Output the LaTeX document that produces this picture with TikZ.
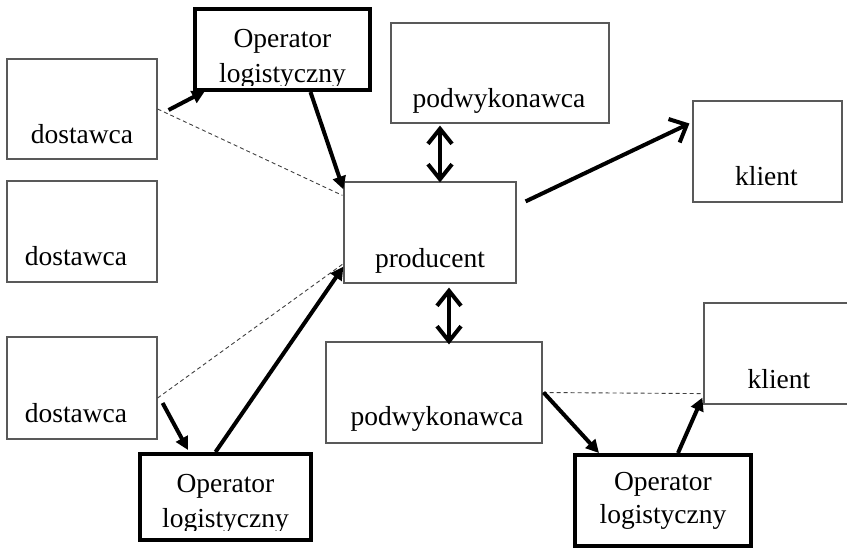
\documentclass[tikz,border=0pt]{standalone}
\usepackage{fontspec}
\setmainfont{Liberation Serif}
\usetikzlibrary{arrows.meta}

\begin{document}
\begin{tikzpicture}[
  x=1pt, y=-1pt,
  plainbox/.style={draw=black!65, line width=1.2pt, rectangle, inner sep=0pt},
  opbox/.style={draw=black, line width=4pt, rectangle, inner sep=0pt},
  boxtext/.style={anchor=base, inner sep=0pt, font=\fontsize{27.5}{34}\selectfont},
  flow/.style={line width=4pt, -{Triangle[length=13pt, width=13pt]}},
  twoway/.style={line width=4pt, {Straight Barb[length=15pt, width=24pt, line width=4pt]}-{Straight Barb[length=15pt, width=24pt, line width=4pt]}},
  oneway/.style={line width=4pt, -{Straight Barb[length=14pt, width=26pt, line width=4pt]}},
  link/.style={draw=black!75, line width=0.9pt, dash pattern=on 4pt off 3pt}
]
\useasboundingbox (0,0) rectangle (847,549);

% suppliers
\node[plainbox, minimum width=150, minimum height=100] (d1) at (82,109) {};
\node[plainbox, minimum width=150, minimum height=101] (d2) at (82,231.5) {};
\node[plainbox, minimum width=150, minimum height=102] (d3) at (82,388) {};
\node[boxtext] (d1t) at (82,143) {dostawca};
\node[boxtext] (d2t) at (76,265) {dostawca};
\node[boxtext] (d3t) at (76,422) {dostawca};

% producer, subcontractors, clients
\node[plainbox, minimum width=218, minimum height=100] (p1) at (500,73) {};
\node[boxtext] (p1t) at (499,107) {podwykonawca};
\node[plainbox, minimum width=172, minimum height=101] (pr) at (430,232.5) {};
\node[boxtext] (prt) at (430,267) {producent};
\node[plainbox, minimum width=149, minimum height=101] (k1) at (767.5,151.5) {};
\node[boxtext] (k1t) at (766.5,185) {klient};
\node[plainbox, minimum width=216, minimum height=101] (p2) at (434,392.5) {};
\node[boxtext] (p2t) at (437,425) {podwykonawca};
\node[plainbox, minimum width=160, minimum height=101] (k2) at (784,353.5) {};
\node[boxtext] (k2t) at (779,388) {klient};

% logistics operators
\node[opbox, minimum width=175, minimum height=81] (o1) at (282.5,49.5) {};
\node[opbox, minimum width=171, minimum height=86] (o2) at (225.5,497) {};
\node[opbox, minimum width=176, minimum height=91] (o3) at (663,500.5) {};
\begin{scope}
  \clip ([shift={(2,2)}]o1.north west) rectangle ([shift={(-2,-7)}]o1.south east);
  \node[boxtext] (o1a) at (282.5,47) {Operator};
  \node[boxtext] (o1b) at (282.5,82) {logistyczny};
\end{scope}
\begin{scope}
  \clip ([shift={(2,2)}]o2.north west) rectangle ([shift={(-2,-12)}]o2.south east);
  \node[boxtext] (o2a) at (225.5,492) {Operator};
  \node[boxtext] (o2b) at (225.5,527) {logistyczny};
\end{scope}
\node[boxtext] (o3a) at (663,490) {Operator};
\node[boxtext] (o3b) at (663,523) {logistyczny};

% dashed direct links
\draw[link] (d1.east) -- ([shift={(-1,14)}]pr.north west);
\draw[link] ([shift={(0,10)}]d3.east) -- ([shift={(0,-20)}]pr.south west);
\draw[link] (p2.east) -- ([shift={(0,-11)}]k2.south west);

% material flows
\draw[flow] ([shift={(11,1)}]d1.east) -- ([shift={(12,-1)}]o1.south west);
\draw[flow] ([shift={(28,0)}]o1.south) -- ([shift={(0,8)}]pr.north west);
\draw[flow] ([shift={(5,15)}]d3.east) -- ([shift={(50,-2)}]o2.north west);
\draw[flow] ([shift={(-10,0)}]o2.north) -- ([shift={(0,-17)}]pr.south west);
\draw[flow] ([shift={(1,0)}]p2.east) -- ([shift={(26,0)}]o3.north west);
\draw[flow] ([shift={(15,0)}]o3.north) -- ([shift={(-1,-7)}]k2.south west);

% cooperation with subcontractors and delivery to the client
\draw[twoway] ([shift={(-60,2)}]p1.south) -- ([shift={(10,1)}]pr.north);
\draw[twoway] ([shift={(19,4)}]pr.south) -- ([shift={(15,3)}]p2.north);
\draw[oneway] ([shift={(9,20)}]pr.north east) -- ([shift={(-3,-28)}]k1.west);
\end{tikzpicture}
\end{document}
